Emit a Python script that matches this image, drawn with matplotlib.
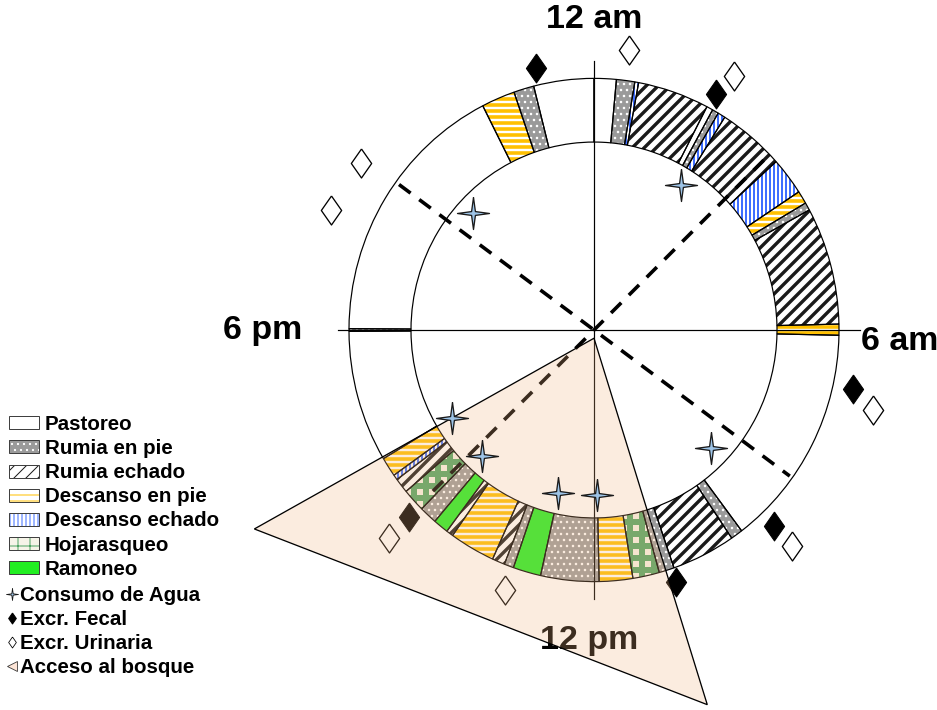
import numpy as np
import matplotlib
matplotlib.use('Agg')
import matplotlib.pyplot as plt
from matplotlib.patches import Patch
from matplotlib.lines import Line2D

plt.rcParams['font.family'] = ['Liberation Sans', 'DejaVu Sans']
plt.rcParams['font.weight'] = 'bold'

# activity segments on the 24 h clock (hours)
seg_start = [0.00, 0.35, 0.64, 0.70, 1.83, 1.93, 2.03, 2.15, 3.20, 3.78, 3.98, 4.10,
             5.91, 6.08, 9.53, 9.72, 10.73, 10.97, 11.39, 11.92, 12.84, 13.28, 13.43,
             13.63, 14.35, 14.46, 14.70, 14.98, 15.34, 15.57, 15.65, 15.95, 17.98,
             18.02, 22.20, 22.73, 23.05]
seg_end = seg_start[1:] + [24.0]
seg_act = ['Pastoreo', 'Rumia en pie', 'Descanso echado', 'Rumia echado', 'Pastoreo',
           'Rumia en pie', 'Descanso echado', 'Rumia echado', 'Descanso echado',
           'Descanso en pie', 'Rumia en pie', 'Rumia echado', 'Descanso en pie',
           'Pastoreo', 'Rumia en pie', 'Rumia echado', 'Rumia en pie', 'Hojarasqueo',
           'Descanso en pie', 'Rumia en pie', 'Ramoneo', 'Rumia en pie', 'Rumia echado',
           'Descanso en pie', 'Rumia echado', 'Ramoneo', 'Rumia en pie', 'Hojarasqueo',
           'Rumia echado', 'Descanso echado', 'Descanso en pie', 'Pastoreo',
           'Rumia en pie', 'Pastoreo', 'Descanso en pie', 'Rumia en pie', 'Pastoreo']

activities = ['Pastoreo', 'Rumia en pie', 'Rumia echado', 'Descanso en pie',
              'Descanso echado', 'Hojarasqueo', 'Ramoneo']

# events (hour, radial position)
water_h = [2.11, 20.89, 8.97, 15.93, 14.83, 12.84, 11.93]
water_r = [166, 166, 164, 166, 166, 163, 161]
fecal_h = [23.15, 1.86, 6.84, 9.11, 10.77, 15.03]
fecal_r = [262, 260, 265, 262, 259, 260]
urine_h = [0.49, 1.97, 20.33, 19.59, 7.04, 9.11, 13.29, 15.02]
urine_r = [275, 284, 284, 288, 290, 289, 268, 288]
forest_h = [12.0, 16.02, 10.85]
forest_r = [8, 391, 382]
# reference lines
dash_h = [[20.4, 8.4], [3.05, 15.05]]
dash_r = [[241, 242], [237, 234]]
axis_h = [[0, 12], [6, 18]]
axis_r = [[262, 262], [266, 256]]
hour_labels = ['12 am', '6 am', '12 pm', '6 pm']
label_h = [0.0, 6.14, 12.06, 18.0]
label_r = [302, 306, 302, 331]

R_IN, R_OUT, R_MAX = 183, 245, 400

# facecolor, hatch, hatch colour, hatch linewidth
style = {
    'Pastoreo': ('white', None, None, 0),
    'Rumia en pie': ('#9A9A9A', '..', 'white', 1.3),
    'Rumia echado': ('white', '//', '#1A1A1A', 3.4),
    'Descanso en pie': ('white', '--', '#FFC000', 3.6),
    'Descanso echado': ('white', '|||', '#3F6FFF', 2.0),
    'Hojarasqueo': ('#F6F4E8', '+', '#4FA463', 6.0),
    'Ramoneo': ('#22EE22', None, None, 0),
}


def rad(h):
    return np.asarray(h, dtype=float) * 2 * np.pi / 24


def set_hlw(patches, lw):
    for p in patches:
        if hasattr(p, 'set_hatch_linewidth'):
            p.set_hatch_linewidth(lw)


fig = plt.figure(figsize=(937 / 72, 710 / 72), dpi=72)
# centre of the clock at (594, 330) px, slightly taller than wide
ax = fig.add_axes([194 / 937, (380 - 410.8) / 710, 800 / 937, 821.6 / 710], projection='polar')
ax.set_aspect('auto')
ax.set_theta_zero_location('N')
ax.set_theta_direction(-1)
ax.set_ylim(0, R_MAX)
ax.axis('off')

starts = np.array(seg_start)
ends = np.array(seg_end)
acts = np.array(seg_act)
for act in activities:
    m = acts == act
    th = rad(starts[m])
    w = rad(ends[m] - starts[m])
    face, hatch, hcol, hlw = style[act]
    ax.bar(th, R_OUT - R_IN, width=w, bottom=R_IN, align='edge', color=face,
           linewidth=0, zorder=2)
    if hatch:
        with plt.rc_context({'hatch.linewidth': hlw}):
            b = ax.bar(th, R_OUT - R_IN, width=w, bottom=R_IN, align='edge', fill=False,
                       edgecolor=hcol, hatch=hatch, linewidth=0, zorder=3)
        set_hlw(b, hlw)
    ax.bar(th, R_OUT - R_IN, width=w, bottom=R_IN, align='edge', fill=False,
           edgecolor='black', linewidth=1.2, zorder=4)

# 12-12 and 6-6 axes, dashed reference diameters
for hh, rr in zip(axis_h, axis_r):
    ax.plot(rad(hh), rr, color='black', lw=1.2, zorder=5)
for hh, rr in zip(dash_h, dash_r):
    ax.plot(rad(hh), rr, color='black', lw=3.6, ls=(0, (4, 3)), zorder=6)

diamond = [(0, 1), (0.7, 0), (0, -1), (-0.7, 0), (0, 1)]
star = [(0, 1), (0.12, 0.12), (1, 0), (0.12, -0.12), (0, -1), (-0.12, -0.12),
        (-1, 0), (-0.12, 0.12), (0, 1)]

ax.plot(rad(fecal_h), fecal_r, ls='none', marker=diamond, ms=29, mfc='black',
        mec='black', mew=1, zorder=7)
ax.plot(rad(urine_h), urine_r, ls='none', marker=diamond, ms=29, mfc='white',
        mec='black', mew=1.3, zorder=7)

for t, h, r in zip(hour_labels, label_h, label_r):
    ax.text(rad(h), r, t, ha='center', va='center', fontsize=34, fontweight='bold',
            color='black', zorder=7)

# acceso al bosque
ax.fill(rad(forest_h), forest_r, facecolor=(243 / 255, 183 / 255, 131 / 255, 0.25),
        edgecolor='black', lw=1.3, zorder=8)

ax.plot(rad(water_h), water_r, ls='none', marker=star, ms=32, mfc='#9DC3E6',
        mec='#1A1A1A', mew=1.3, zorder=9)

# legends
handles = []
for act in activities:
    face, hatch, hcol, hlw = style[act]
    parts = [Patch(facecolor=face, edgecolor='none')]
    if hatch:
        with plt.rc_context({'hatch.linewidth': hlw * 0.8}):
            hp = Patch(fill=False, edgecolor=hcol, hatch=hatch, linewidth=0)
        set_hlw([hp], hlw * 0.8)
        parts.append(hp)
    parts.append(Patch(fill=False, edgecolor='#404040', linewidth=1))
    handles.append(tuple(parts))

fig.legend(handles, activities, loc='upper left', bbox_to_anchor=(9 / 937, 1 - 415 / 710),
           frameon=False, prop={'weight': 'bold', 'size': 20.5}, handlelength=1.45,
           handleheight=0.6, handletextpad=0.3, labelspacing=0.25, borderpad=0,
           borderaxespad=0)

mk_handles = [
    Line2D([], [], ls='none', marker=star, ms=12, mfc='#9DC3E6', mec='#1A1A1A', mew=0.8),
    Line2D([], [], ls='none', marker=diamond, ms=11, mfc='black', mec='black'),
    Line2D([], [], ls='none', marker=diamond, ms=11, mfc='white', mec='black', mew=0.8),
    Line2D([], [], ls='none', marker='<', ms=10, mfc='#FCE4D6', mec='#333333', mew=0.8),
]
mk_labels = ['Consumo de Agua', 'Excr. Fecal', 'Excr. Urinaria', 'Acceso al bosque']
fig.legend(mk_handles, mk_labels, loc='upper left', bbox_to_anchor=(6 / 937, 1 - 586 / 710),
           frameon=False, prop={'weight': 'bold', 'size': 20.5}, handlelength=0.55,
           handletextpad=0.15, labelspacing=0.25, borderpad=0, borderaxespad=0)

fig.savefig('out.png', dpi=72)
